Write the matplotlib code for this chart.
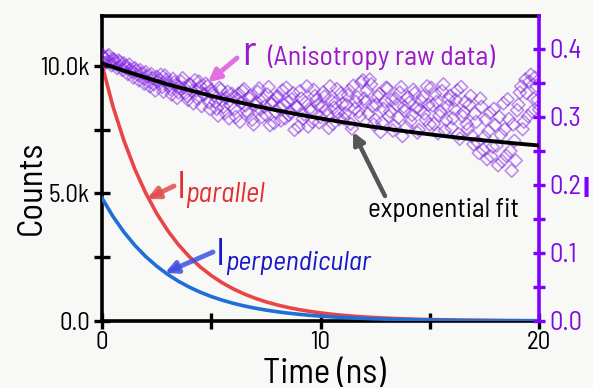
import matplotlib
matplotlib.use("Agg")
import matplotlib.pyplot as plt
from matplotlib.ticker import FixedLocator, FixedFormatter

FONTS = ['Barlow Semi Condensed', 'Archivo Narrow', 'DejaVu Sans']
plt.rcParams['font.family'] = FONTS

# ---------------- data ----------------
t_curve = [0.0, 0.5, 1.0, 1.5, 2.0, 2.5, 3.0, 3.5, 4.0, 4.5, 5.0, 5.5, 6.0, 6.5, 7.0,
           7.5, 8.0, 8.5, 9.0, 9.5, 10.0, 10.5, 11.0, 11.5, 12.0, 12.5, 13.0, 13.5,
           14.0, 14.5, 15.0, 15.5, 16.0, 16.5, 17.0, 17.5, 18.0, 18.5, 19.0, 19.5, 20.0]
i_parallel = [10050, 8416, 7083, 5961, 5017, 4222, 3553, 2991, 2517, 2118, 1783, 1500,
              1263, 1063, 894, 753, 634, 533, 449, 378, 318, 267, 225, 189, 159, 134,
              113, 95, 80, 67, 57, 48, 40, 34, 28, 24, 20, 17, 14, 12, 10]
i_perpendicular = [4820, 4102, 3491, 2971, 2528, 2152, 1831, 1558, 1326, 1129, 960, 817,
                   696, 592, 504, 429, 365, 310, 264, 225, 191, 163, 139, 118, 100, 85,
                   73, 62, 53, 45, 38, 32, 28, 23, 20, 17, 15, 12, 11, 9, 8]

t_fit = [0, 1, 2, 3, 4, 5, 6, 7, 8, 9, 10, 11, 12, 13, 14, 15, 16, 17, 18, 19, 20]
r_fit = [0.379, 0.368, 0.358, 0.348, 0.3395, 0.331, 0.3236, 0.3164, 0.3098, 0.3036,
         0.2978, 0.2925, 0.2875, 0.2828, 0.2785, 0.2745, 0.2707, 0.2672, 0.2640,
         0.2609, 0.2581]

# anisotropy raw data, sampled every 0.125 ns (two interleaved read-outs)
t_raw_a = [i * 0.125 for i in range(161)]
r_raw_a = [0.392, 0.386, 0.389, 0.381, 0.385, 0.378, 0.383, 0.374, 0.379,
           0.371, 0.377, 0.366, 0.372, 0.362, 0.369, 0.357, 0.366,
           0.352, 0.363, 0.348, 0.359, 0.355, 0.344, 0.361, 0.350,
           0.341, 0.356, 0.347, 0.336, 0.352, 0.343, 0.331, 0.348,
           0.338, 0.354, 0.327, 0.345, 0.334, 0.349, 0.322, 0.340,
           0.331, 0.312, 0.343, 0.325, 0.306, 0.337, 0.318, 0.329,
           0.300, 0.334, 0.321, 0.341, 0.309, 0.327, 0.296, 0.318,
           0.337, 0.311, 0.326, 0.303, 0.344, 0.319, 0.291, 0.330,
           0.313, 0.339, 0.298, 0.322, 0.307, 0.335, 0.316, 0.286,
           0.327, 0.304, 0.345, 0.312, 0.293, 0.331, 0.318, 0.300,
           0.336, 0.309, 0.284, 0.324, 0.314, 0.341, 0.297, 0.319,
           0.305, 0.332, 0.290, 0.346, 0.322, 0.308, 0.351, 0.327,
           0.339, 0.355, 0.316, 0.296, 0.330, 0.278, 0.312, 0.343,
           0.301, 0.325, 0.287, 0.318, 0.336, 0.272, 0.309, 0.329,
           0.294, 0.340, 0.314, 0.281, 0.323, 0.305, 0.345, 0.289,
           0.317, 0.334, 0.276, 0.308, 0.348, 0.296, 0.326, 0.284,
           0.312, 0.339, 0.268, 0.301, 0.322, 0.282, 0.331, 0.260,
           0.293, 0.247, 0.315, 0.271, 0.238, 0.306, 0.256, 0.288,
           0.229, 0.274, 0.320, 0.243, 0.297, 0.221, 0.265, 0.310,
           0.336, 0.282, 0.355, 0.301, 0.362, 0.327, 0.346, 0.311]
t_raw_b = [0.0625 + i * 0.125 for i in range(160)]
r_raw_b = [0.388, 0.380, 0.391, 0.376, 0.384, 0.372, 0.381, 0.369,
           0.375, 0.363, 0.370, 0.358, 0.368, 0.354, 0.364, 0.349,
           0.360, 0.345, 0.357, 0.339, 0.352, 0.362, 0.337, 0.355,
           0.346, 0.333, 0.351, 0.328, 0.344, 0.357, 0.335, 0.325,
           0.347, 0.320, 0.339, 0.352, 0.316, 0.333, 0.345, 0.312,
           0.336, 0.322, 0.302, 0.340, 0.315, 0.328, 0.298, 0.334,
           0.312, 0.326, 0.293, 0.338, 0.317, 0.305, 0.331, 0.289,
           0.322, 0.342, 0.300, 0.315, 0.333, 0.288, 0.324, 0.308,
           0.330, 0.295, 0.318, 0.343, 0.303, 0.326, 0.281, 0.315,
           0.338, 0.297, 0.321, 0.286, 0.309, 0.340, 0.325, 0.292,
           0.316, 0.330, 0.302, 0.345, 0.290, 0.321, 0.306, 0.335,
           0.298, 0.318, 0.339, 0.283, 0.312, 0.329, 0.301, 0.354,
           0.322, 0.305, 0.348, 0.289, 0.318, 0.334, 0.292, 0.323,
           0.342, 0.308, 0.280, 0.327, 0.299, 0.344, 0.315, 0.285,
           0.321, 0.303, 0.335, 0.277, 0.311, 0.330, 0.296, 0.318,
           0.343, 0.290, 0.322, 0.302, 0.338, 0.280, 0.315, 0.331,
           0.298, 0.325, 0.275, 0.344, 0.307, 0.290, 0.318, 0.272,
           0.305, 0.263, 0.327, 0.252, 0.296, 0.279, 0.242, 0.312,
           0.258, 0.300, 0.235, 0.282, 0.326, 0.250, 0.289, 0.236,
           0.318, 0.345, 0.293, 0.335, 0.352, 0.308, 0.358, 0.325]

left_ticks = [0, 5000, 10000]
left_tick_labels = ["0.0", "5.0k", "10.0k"]
right_ticks = [0.0, 0.1, 0.2, 0.3, 0.4]
right_tick_labels = ["0.0", "0.1", "0.2", "0.3", "0.4"]
x_ticks = [0, 10, 20]

# ---------------- style ----------------
W, H = 593, 388
bg = '#f8f8f6'
purple_axis = '#8000ff'
fig = plt.figure(figsize=(W / 100, H / 100), dpi=100, facecolor=bg)
ax = fig.add_axes([102 / W, 1 - 321 / H, (539 - 102) / W, (321 - 16) / H])
ax.set_facecolor(bg)
ax2 = ax.twinx()

ax.plot(t_curve, i_parallel, color='#e84545', lw=2.6, zorder=2)
ax.plot(t_curve, i_perpendicular, color='#1f6fd6', lw=2.6, zorder=3)

for tr, rr in ((t_raw_a, r_raw_a), (t_raw_b, r_raw_b)):
    ax2.scatter(tr, rr, marker='D', s=44, facecolors='none',
                edgecolors='#8020e0', linewidths=1.15, alpha=0.5, zorder=2)
ax2.plot(t_fit, r_fit, color='black', lw=2.8, zorder=3)

ax.set_xlim(0, 20)
ax.set_ylim(0, 11960)
ax2.set_ylim(0, 0.4485)

for s in ['left', 'bottom', 'top']:
    ax.spines[s].set_linewidth(2.6)
    ax.spines[s].set_color('black')
ax.spines['right'].set_visible(False)
for s in ['left', 'bottom', 'top']:
    ax2.spines[s].set_visible(False)
ax2.spines['right'].set_linewidth(2.6)
ax2.spines['right'].set_color(purple_axis)

ax.xaxis.set_major_locator(FixedLocator(x_ticks))
ax.xaxis.set_minor_locator(FixedLocator([5, 15]))
ax.yaxis.set_major_locator(FixedLocator(left_ticks))
ax.yaxis.set_major_formatter(FixedFormatter(left_tick_labels))
ax.yaxis.set_minor_locator(FixedLocator([2500, 7500]))
ax.tick_params(axis='both', which='both', direction='inout', length=11, width=2.4,
               color='black', labelsize=18, pad=3)
ax.tick_params(axis='x', which='major', pad=2)

ax2.yaxis.set_major_locator(FixedLocator(right_ticks))
ax2.yaxis.set_major_formatter(FixedFormatter(right_tick_labels))
ax2.yaxis.set_minor_locator(FixedLocator([0.05, 0.15, 0.25, 0.35]))
ax2.tick_params(axis='y', which='both', direction='inout', length=9, width=2.4,
                color=purple_axis, labelcolor='#7a10e0', labelsize=19, pad=3)

ax.set_ylabel("Counts", fontsize=25)
ax.yaxis.set_label_coords(-0.125, 0.437)
ax.set_xlabel("Time (ns)", fontsize=25)
ax.xaxis.set_label_coords(0.51, -0.12)


def fp(x, y):
    return (x / W, 1 - y / H)


# annotations
fig.text(*fp(242, 65), "r", fontsize=30, color='#9a18c8', va='baseline', ha='left')
fig.text(*fp(267, 65), "(Anisotropy raw data)", fontsize=20, color='#9a18c8',
         va='baseline', ha='left')
ax2.annotate("", xy=(4.85, 0.351), xycoords='data', xytext=fp(237, 58),
             textcoords='figure fraction',
             arrowprops=dict(arrowstyle='-|>,head_length=0.7,head_width=0.35',
                             color='#e070e0', lw=3.5, shrinkA=0, shrinkB=0))

fig.text(*fp(177, 198), "I", fontsize=28, color='#e03030', va='baseline', ha='left')
fig.text(*fp(185, 202), "parallel", fontsize=20.5, color='#e03030', style='italic',
         va='baseline', ha='left')
ax.annotate("", xy=(2.06, 4784), xycoords='data', xytext=fp(174, 186),
            textcoords='figure fraction',
            arrowprops=dict(arrowstyle='-|>,head_length=0.7,head_width=0.35',
                            color='#e05050', alpha=0.85, lw=3.5, shrinkA=0, shrinkB=0))

fig.text(*fp(216, 265), "I", fontsize=28, color='#1818c8', va='baseline', ha='left')
fig.text(*fp(225, 270), "perpendicular", fontsize=20, color='#1818c8', style='italic',
         va='baseline', ha='left')
ax.annotate("", xy=(2.88, 1882), xycoords='data', xytext=fp(213, 252),
            textcoords='figure fraction',
            arrowprops=dict(arrowstyle='-|>,head_length=0.7,head_width=0.35',
                            color='#4050e0', alpha=0.85, lw=3.5, shrinkA=0, shrinkB=0))

fig.text(*fp(368, 217), "exponential fit", fontsize=19.5, color='black',
         va='baseline', ha='left')
ax2.annotate("", xy=(11.49, 0.278), xycoords='data', xytext=fp(385, 196),
             textcoords='figure fraction',
             arrowprops=dict(arrowstyle='-|>,head_length=0.7,head_width=0.35',
                             color='#555555', lw=3.2, shrinkA=0, shrinkB=0))

# clipped right-hand axis label
fig.text(*fp(582, 197), "I", fontsize=21, color='#8000ff', va='baseline', ha='left',
         fontweight='bold')

fig.savefig("out.png", dpi=100, facecolor=bg)
